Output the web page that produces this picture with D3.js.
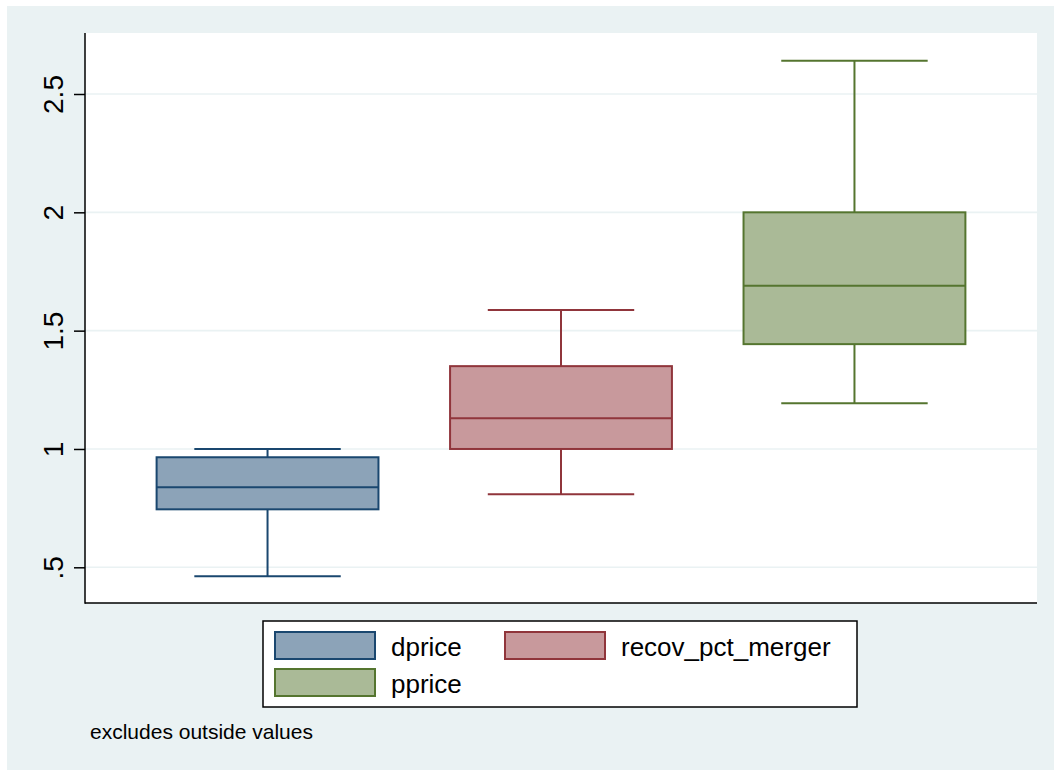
<!DOCTYPE html>
<html>
<head>
<meta charset="utf-8">
<script src="https://cdn.jsdelivr.net/npm/d3@7"></script>
<style>
  body { margin: 0; background: #fff; }
  text { font-family: "Liberation Sans", Arial, Helvetica, sans-serif; }
</style>
</head>
<body>
<div id="chart"></div>
<script>
// box plot values
const variables = ["dprice", "recov_pct_merger", "pprice"];
const lowerWhisker = [0.462, 0.809, 1.193];
const q1 = [0.745, 1.0, 1.443];
const median = [0.838, 1.13, 1.69];
const q3 = [0.965, 1.35, 2.0];
const upperWhisker = [1.0, 1.587, 2.64];
const yTicks = [0.5, 1, 1.5, 2, 2.5];
const yTickLabels = [".5", "1", "1.5", "2", "2.5"];
const strokeColors = ["#1a476f", "#90353b", "#55752f"];
const fillColors = ["#8ca3b8", "#c8999c", "#aaba97"];
const noteText = "excludes outside values";

const width = 1054, height = 770;
const bgColor = "#eaf2f3";
const plot = { left: 85, right: 1037, top: 33, bottom: 603 };

const svg = d3.select("#chart")
    .append("svg")
    .attr("width", width)
    .attr("height", height);

svg.append("rect").attr("width", width).attr("height", height).attr("fill", "#fff");
svg.append("rect")
    .attr("x", 7).attr("y", 6)
    .attr("width", width - 7).attr("height", height - 6)
    .attr("fill", bgColor);
svg.append("rect")
    .attr("x", plot.left).attr("y", plot.top)
    .attr("width", plot.right - plot.left).attr("height", plot.bottom - plot.top)
    .attr("fill", "#fff");

const x = d3.scaleBand()
    .domain(variables)
    .range([plot.left, plot.right])
    .padding(0.244);

const y = d3.scaleLinear()
    .domain([0.5, 2.5])
    .range([567.3, 94]);

// Gridlines
svg.selectAll(".grid")
    .data(yTicks)
    .enter()
    .append("line")
    .attr("class", "grid")
    .attr("x1", plot.left).attr("x2", plot.right)
    .attr("y1", d => y(d)).attr("y2", d => y(d))
    .attr("stroke", bgColor)
    .attr("stroke-width", 1.6);

// Y axis, labels rotated like Stata
const yAxis = svg.append("g")
    .attr("transform", `translate(${plot.left},0)`)
    .call(d3.axisLeft(y).tickValues(yTicks).tickFormat((d, i) => yTickLabels[i]).tickSize(11));
yAxis.select(".domain").remove();
yAxis.selectAll(".tick line").attr("stroke", "#000").attr("stroke-width", 1.5);
yAxis.selectAll(".tick text")
    .attr("x", 0).attr("y", 0).attr("dy", 0)
    .attr("transform", "translate(-22,0) rotate(-90)")
    .attr("text-anchor", "middle")
    .attr("font-size", 28)
    .attr("fill", "#000");

svg.append("line")
    .attr("x1", plot.left).attr("x2", plot.left)
    .attr("y1", plot.top).attr("y2", plot.bottom + 0.75)
    .attr("stroke", "#000").attr("stroke-width", 1.5);
svg.append("line")
    .attr("x1", plot.left).attr("x2", plot.right)
    .attr("y1", plot.bottom).attr("y2", plot.bottom)
    .attr("stroke", "#000").attr("stroke-width", 1.5);

// Boxes
const bw = x.bandwidth();
const capW = bw * 0.66;
variables.forEach((v, i) => {
    const cx = x(v) + bw / 2;
    const g = svg.append("g");
    // whiskers
    g.append("line")
        .attr("x1", cx).attr("x2", cx)
        .attr("y1", y(q3[i])).attr("y2", y(upperWhisker[i]))
        .attr("stroke", strokeColors[i]).attr("stroke-width", 2);
    g.append("line")
        .attr("x1", cx).attr("x2", cx)
        .attr("y1", y(q1[i])).attr("y2", y(lowerWhisker[i]))
        .attr("stroke", strokeColors[i]).attr("stroke-width", 2);
    [upperWhisker[i], lowerWhisker[i]].forEach(val => {
        g.append("line")
            .attr("x1", cx - capW / 2).attr("x2", cx + capW / 2)
            .attr("y1", y(val)).attr("y2", y(val))
            .attr("stroke", strokeColors[i]).attr("stroke-width", 2);
    });
    g.append("rect")
        .attr("x", x(v)).attr("width", bw)
        .attr("y", y(q3[i])).attr("height", y(q1[i]) - y(q3[i]))
        .attr("fill", fillColors[i])
        .attr("stroke", strokeColors[i]).attr("stroke-width", 2);
    g.append("line")
        .attr("x1", x(v)).attr("x2", x(v) + bw)
        .attr("y1", y(median[i])).attr("y2", y(median[i]))
        .attr("stroke", strokeColors[i]).attr("stroke-width", 2);
});

// Legend
const legend = svg.append("g");
legend.append("rect")
    .attr("x", 263).attr("y", 621)
    .attr("width", 594).attr("height", 86)
    .attr("fill", "#fff").attr("stroke", "#000").attr("stroke-width", 1.5);
const legendPos = [[275, 632], [505, 632], [275, 669]];
variables.forEach((v, i) => {
    const [lx, ly] = legendPos[i];
    legend.append("rect")
        .attr("x", lx).attr("y", ly)
        .attr("width", 100).attr("height", 27)
        .attr("fill", fillColors[i])
        .attr("stroke", strokeColors[i]).attr("stroke-width", 2);
    legend.append("text")
        .attr("x", lx + 116).attr("y", ly + 24)
        .attr("font-size", 26)
        .attr("fill", "#000")
        .text(v);
});

// Note
svg.append("text")
    .attr("x", 90).attr("y", 739)
    .attr("font-size", 21)
    .attr("fill", "#000")
    .text(noteText);
</script>
</body>
</html>
